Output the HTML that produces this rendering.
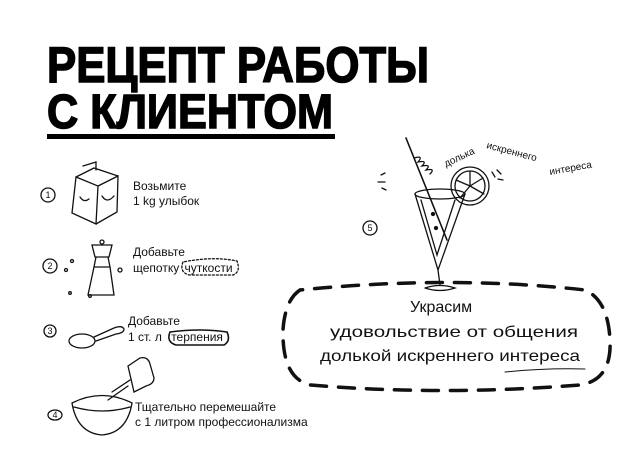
<!DOCTYPE html>
<html><head><meta charset="utf-8"><style>
html,body{margin:0;padding:0;background:#fff;width:638px;height:452px;overflow:hidden}
svg{display:block}
.t{font-family:"Liberation Sans",sans-serif;font-weight:bold}
.h{font-family:"Liberation Sans Narrow","Liberation Sans",sans-serif;fill:#111}
</style></head><body>
<svg width="638" height="452" viewBox="0 0 638 452" xmlns="http://www.w3.org/2000/svg">
<text class="t" x="47" y="82" font-size="50" stroke="#000" stroke-width="1.5" textLength="382" lengthAdjust="spacingAndGlyphs">РЕЦЕПТ РАБОТЫ</text>
<text class="t" x="47" y="128" font-size="48" stroke="#000" stroke-width="1.5" textLength="286" lengthAdjust="spacingAndGlyphs">С КЛИЕНТОМ</text>
<rect x="47" y="134" width="288" height="5" fill="#000"/>

<g fill="none" stroke="#111" stroke-width="1.3" stroke-linecap="round">
<circle cx="48" cy="195" r="7"/>
<path d="M76 177 L98 186 L96 224 L72 213 Z M98 186 L118 176 L117 212 L96 224 M76 177 L94 168 L118 176 M83 166 L96 162 L96 170"/>
<path d="M80 197 q4 6 9 2 M102 196 q5 8 12 0"/>
<circle cx="50" cy="266" r="7"/>
<path d="M92 245 h20 l-3 12 h-14 z M96 257 l-2 10 h16 l-2 -10 M94 267 l-6 28 h26 l-4 -28 M90 295 h24"/>
<circle cx="102" cy="242" r="2"/>
<circle cx="66" cy="270" r="1.5"/><circle cx="72" cy="261" r="1.5"/><circle cx="120" cy="270" r="2"/><circle cx="70" cy="293" r="1.3"/><circle cx="90" cy="296" r="1.3"/>
<path d="M183 262 q-4 10 6 13 h44 q8 -3 4 -14 q-24 -5 -54 1" stroke-dasharray="2 2"/>
<circle cx="50" cy="331" r="6"/>
<ellipse cx="82" cy="341" rx="13" ry="7"/><path d="M94 337 l20 -9 q8 -3 10 1 q0 4 -8 5 l-20 7"/>
<path d="M170 332 q-4 10 6 13 h48 q7 -4 3 -13 q-27 -4 -57 0" stroke-width="1.6"/>
<ellipse cx="55" cy="415" rx="7" ry="5"/>
<path d="M72 403 q30 -15 60 0 q-5 30 -30 32 q-25 -2 -30 -32 M74 407 q28 8 56 0"/>
<path d="M108 400 l20 -14 M112 392 l18 -12 M128 366 l12 -8 q8 -2 10 6 l4 14 q0 6 -8 8 l-12 6 z"/>
<circle cx="370" cy="228" r="7"/>
<ellipse cx="440" cy="194" rx="25" ry="5"/>
<path d="M415 194 L438 270 L465 194 M421 200 L437 255 L455 200 M438 270 L440 285 M425 288 q15 -5 30 0 q-15 5 -30 0"/>
<path d="M406 138 L447 240" stroke-width="1.6"/>
<path d="M414 158 q10 -3 4 4 q10 -2 4 4 q10 -2 4 4 q10 -2 4 4"/>
<circle cx="470" cy="186" r="19"/><circle cx="470" cy="186" r="15"/>
<path d="M470 186 L470 171 M470 186 L483 178 M470 186 L484 194 M470 186 L460 198 M470 186 L456 180"/>
<path d="M381 175 l4 -2 M378 182 l7 0 M382 188 l4 2 M497 170 l4 4 M492 172 l3 5 M498 179 l5 1"/>
<circle cx="433" cy="214" r="1.5" fill="#111"/><circle cx="436" cy="228" r="1.5" fill="#111"/>
<path d="M300 290 Q285 300 283 330 Q282 378 310 385 Q440 396 580 385 Q612 380 610 340 Q608 300 585 290 Q450 275 300 290 Z" stroke-width="3.5" stroke-dasharray="16 12"/>
<path d="M505 372 q40 -4 80 -3" stroke-width="1"/>
</g>

<g class="h" font-size="12">
<g font-size="9" text-anchor="middle">
<text x="48" y="198">1</text><text x="50" y="269">2</text><text x="50" y="334">3</text><text x="55" y="418">4</text><text x="370" y="231">5</text>
</g>
<text x="133" y="190">Возьмите</text>
<text x="133" y="205">1 kg улыбок</text>
<text x="133" y="256">Добавьте</text>
<text x="133" y="272">щепотку <tspan dx="2">чуткости</tspan></text>
<text x="128" y="325">Добавьте</text>
<text x="128" y="341">1 ст. л <tspan dx="6">терпения</tspan></text>
<text x="135" y="411">Тщательно перемешайте</text>
<text x="135" y="426">с 1 литром профессионализма</text>
<text x="410" y="312" font-size="16">Украсим</text>
<text x="330" y="337" font-size="16" textLength="248" lengthAdjust="spacingAndGlyphs">удовольствие от общения</text>
<text x="320" y="361" font-size="16" textLength="260" lengthAdjust="spacingAndGlyphs">долькой искреннего интереса</text>
<g font-size="10">
<text transform="translate(446,167) rotate(-25)">долька</text>
<text transform="translate(486,148) rotate(15)">искреннего</text>
<text transform="translate(550,175) rotate(-10)">интереса</text>
</g>
</g>
</svg>
</body></html>
